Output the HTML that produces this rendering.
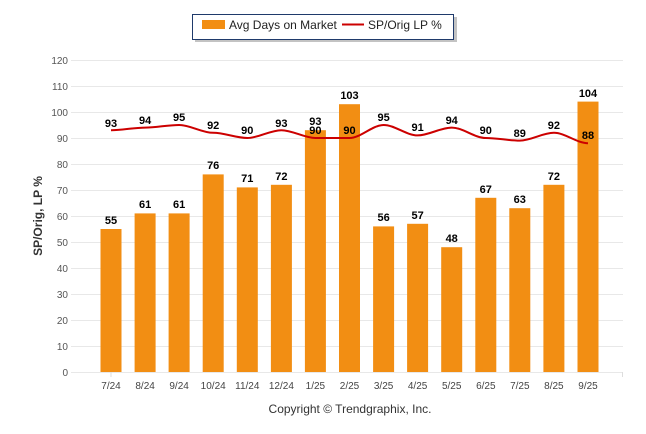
<!DOCTYPE html>
<html><head><meta charset="utf-8"><style>
body{margin:0;background:#fff;}
svg{display:block;font-family:"Liberation Sans",sans-serif;}
</style></head><body>
<svg width="646" height="434" viewBox="0 0 646 434">
<rect x="195" y="17" width="262" height="25" fill="#888" opacity="0.5"/>
<rect x="192.5" y="14.5" width="261" height="25" fill="#fff" stroke="#1f3a6b" stroke-width="1"/>
<rect x="202" y="20" width="23" height="9" fill="#f28e13"/>
<text x="229" y="29" font-size="12" fill="#222">Avg Days on Market</text>
<line x1="342" y1="24.5" x2="364" y2="24.5" stroke="#cc0000" stroke-width="2"/>
<text x="368" y="29" font-size="12" fill="#222">SP/Orig LP %</text>
<g stroke="#e8e8e8" stroke-width="1">
<line x1="71" x2="623" y1="60.5" y2="60.5"/><line x1="71" x2="623" y1="86.5" y2="86.5"/>
<line x1="71" x2="623" y1="112.5" y2="112.5"/><line x1="71" x2="623" y1="138.5" y2="138.5"/>
<line x1="71" x2="623" y1="164.5" y2="164.5"/><line x1="71" x2="623" y1="190.5" y2="190.5"/>
<line x1="71" x2="623" y1="216.5" y2="216.5"/><line x1="71" x2="623" y1="242.5" y2="242.5"/>
<line x1="71" x2="623" y1="268.5" y2="268.5"/><line x1="71" x2="623" y1="294.5" y2="294.5"/>
<line x1="71" x2="623" y1="320.5" y2="320.5"/><line x1="71" x2="623" y1="346.5" y2="346.5"/>
<line x1="71" x2="623" y1="372.5" y2="372.5"/>
</g>
<g font-size="10" fill="#555" text-anchor="end">
<text x="68" y="64">120</text><text x="68" y="90">110</text><text x="68" y="116">100</text>
<text x="68" y="142">90</text><text x="68" y="168">80</text><text x="68" y="194">70</text>
<text x="68" y="220">60</text><text x="68" y="246">50</text><text x="68" y="272">40</text>
<text x="68" y="298">30</text><text x="68" y="324">20</text><text x="68" y="350">10</text>
<text x="68" y="376">0</text>
</g>
<text transform="translate(42,216) rotate(-90)" font-size="12" font-weight="bold" fill="#333" text-anchor="middle">SP/Orig, LP %</text>
<g fill="#f28e13">
<rect x="100.5" y="229" width="21" height="143"/>
<rect x="134.6" y="213.4" width="21" height="158.6"/>
<rect x="168.6" y="213.4" width="21" height="158.6"/>
<rect x="202.7" y="174.4" width="21" height="197.6"/>
<rect x="236.8" y="187.4" width="21" height="184.6"/>
<rect x="270.9" y="184.8" width="21" height="187.2"/>
<rect x="304.9" y="130.2" width="21" height="241.8"/>
<rect x="339" y="104.2" width="21" height="267.8"/>
<rect x="373.1" y="226.4" width="21" height="145.6"/>
<rect x="407.1" y="223.8" width="21" height="148.2"/>
<rect x="441.2" y="247.2" width="21" height="124.8"/>
<rect x="475.3" y="197.8" width="21" height="174.2"/>
<rect x="509.3" y="208.2" width="21" height="163.8"/>
<rect x="543.4" y="184.8" width="21" height="187.2"/>
<rect x="577.5" y="101.6" width="21" height="270.4"/>
</g>
<g font-size="11" font-weight="bold" fill="#000" text-anchor="middle">
<text x="111" y="224">55</text><text x="145.1" y="208">61</text><text x="179.1" y="208">61</text>
<text x="213.2" y="169">76</text><text x="247.3" y="182">71</text><text x="281.4" y="180">72</text>
<text x="315.4" y="125">93</text><text x="349.5" y="99">103</text><text x="383.6" y="221">56</text>
<text x="417.6" y="219">57</text><text x="451.7" y="242">48</text><text x="485.8" y="193">67</text>
<text x="519.8" y="203">63</text><text x="553.9" y="180">72</text><text x="588" y="97">104</text>
</g>
<path fill="none" stroke="#cc0000" stroke-width="2" d="M111,130.2 C122.4,130.2 133.7,127.6 145.1,127.6 C156.4,127.6 167.8,125 179.1,125 C190.5,125 201.8,132.8 213.2,132.8 C224.6,132.8 235.9,138 247.3,138 C258.7,138 270,130.2 281.4,130.2 C292.7,130.2 304.1,138 315.4,138 C326.8,138 338.1,138 349.5,138 C360.9,138 372.2,125 383.6,125 C394.9,125 406.3,135.4 417.6,135.4 C429,135.4 440.3,127.6 451.7,127.6 C463.1,127.6 474.4,138 485.8,138 C497.1,138 508.5,140.6 519.8,140.6 C531.2,140.6 542.5,132.8 553.9,132.8 C565.3,132.8 576.6,143.2 588,143.2"/>
<g font-size="11" font-weight="bold" fill="#000" text-anchor="middle">
<text x="111" y="127">93</text><text x="145.1" y="124">94</text><text x="179.1" y="121">95</text>
<text x="213.2" y="129">92</text><text x="247.3" y="134">90</text><text x="281.4" y="127">93</text>
<text x="315.4" y="134">90</text><text x="349.5" y="134">90</text><text x="383.6" y="121">95</text>
<text x="417.6" y="131">91</text><text x="451.7" y="124">94</text><text x="485.8" y="134">90</text>
<text x="519.8" y="137">89</text><text x="553.9" y="129">92</text><text x="588" y="139">88</text>
</g>
<g stroke="#ddd"><line x1="111" x2="111" y1="372" y2="377"/><line x1="622.5" x2="622.5" y1="372" y2="377"/></g>
<g font-size="10" fill="#444" text-anchor="middle">
<text x="111" y="389">7/24</text><text x="145.1" y="389">8/24</text><text x="179.1" y="389">9/24</text>
<text x="213.2" y="389">10/24</text><text x="247.3" y="389">11/24</text><text x="281.4" y="389">12/24</text>
<text x="315.4" y="389">1/25</text><text x="349.5" y="389">2/25</text><text x="383.6" y="389">3/25</text>
<text x="417.6" y="389">4/25</text><text x="451.7" y="389">5/25</text><text x="485.8" y="389">6/25</text>
<text x="519.8" y="389">7/25</text><text x="553.9" y="389">8/25</text><text x="588" y="389">9/25</text>
</g>
<text x="350" y="413" font-size="12" fill="#333" text-anchor="middle">Copyright © Trendgraphix, Inc.</text>
</svg>
</body></html>
